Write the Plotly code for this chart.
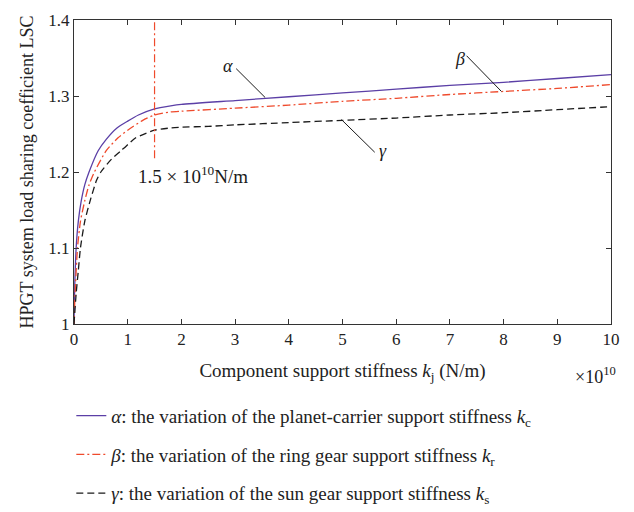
import plotly.graph_objects as go

# ---- data ----
alpha_x = [0, 0.01, 0.04, 0.08, 0.13, 0.2, 0.28, 0.45, 0.6, 0.8, 1.0, 1.2, 1.5, 1.8, 2.0, 3, 4, 5, 6, 7, 8, 9, 10]
alpha_y = [1.0, 1.04, 1.10, 1.135, 1.16, 1.183, 1.20, 1.228, 1.243, 1.258, 1.267, 1.275, 1.283, 1.287, 1.289,
           1.294, 1.299, 1.304, 1.309, 1.314, 1.318, 1.323, 1.328]

beta_x = [0, 0.02, 0.065, 0.12, 0.2, 0.28, 0.38, 0.6, 0.82, 1.0, 1.28, 1.5, 1.8, 2.0, 3, 4, 5, 6, 7, 8, 9, 10]
beta_y = [1.0, 1.04, 1.10, 1.135, 1.162, 1.183, 1.20, 1.228, 1.245, 1.255, 1.268, 1.275, 1.279, 1.280,
          1.284, 1.288, 1.293, 1.297, 1.302, 1.306, 1.310, 1.315]

gamma_x = [0, 0.04, 0.08, 0.12, 0.2, 0.3, 0.42, 0.5, 0.7, 0.86, 1.0, 1.15, 1.5, 1.8, 2.0, 2.5, 3, 4, 5, 6, 7, 8, 9, 10]
gamma_y = [1.0, 1.04, 1.07, 1.10, 1.135, 1.162, 1.189, 1.20, 1.217, 1.227, 1.236, 1.245, 1.255, 1.258, 1.259, 1.260,
           1.262, 1.265, 1.268, 1.271, 1.275, 1.278, 1.282, 1.286]

marker_x = [1.5, 1.5]
marker_y = [1.218, 1.4]

y_ticks = [1.0, 1.1, 1.2, 1.3, 1.4]
y_tick_labels = ["1", "1.1", "1.2", "1.3", "1.4"]
x_ticks = [0, 1, 2, 3, 4, 5, 6, 7, 8, 9, 10]
x_tick_labels = ["0", "1", "2", "3", "4", "5", "6", "7", "8", "9", "10"]

names = [
    "<i>α</i>: the variation of the planet-carrier support stiffness <i>k</i><sub>c</sub>",
    "<i>β</i>: the variation of the ring gear support stiffness <i>k</i><sub>r</sub>",
    "<i>γ</i>: the variation of the sun gear support stiffness <i>k</i><sub>s</sub>",
]

FONT = "Liberation Serif"
PURPLE = "#5b3fa6"
RED = "#ef4a2c"
BLACK = "#1a1a1a"
DASHDOT = "8px,3px,2px,3px"

fig = go.Figure()
fig.add_trace(go.Scatter(x=alpha_x, y=alpha_y, mode="lines", name=names[0], legendgroup="a",
                         line=dict(color=PURPLE, width=1.3, shape="spline", smoothing=0.6)))
fig.add_trace(go.Scatter(x=beta_x, y=beta_y, mode="lines", name=names[1], legendgroup="b",
                         line=dict(color=RED, width=1.3, dash=DASHDOT, shape="spline", smoothing=0.6)))
fig.add_trace(go.Scatter(x=gamma_x, y=gamma_y, mode="lines", name=names[2], legendgroup="c",
                         line=dict(color=BLACK, width=1.3, dash="7px,4px", shape="spline", smoothing=0.6)))
fig.add_trace(go.Scatter(x=marker_x, y=marker_y, mode="lines", showlegend=False,
                         line=dict(color=RED, width=1.2, dash=DASHDOT)))

# leader lines
leaders = [
    (3.02, 1.336, 3.56, 1.298),
    (7.31, 1.353, 7.96, 1.306),
    (4.98, 1.269, 5.60, 1.226),
]
for x0, y0, x1, y1 in leaders:
    fig.add_shape(type="line", x0=x0, y0=y0, x1=x1, y1=y1, xref="x", yref="y",
                  line=dict(color=BLACK, width=1))

anno_font = dict(family=FONT, size=18, color=BLACK)
fig.add_annotation(x=2.87, y=1.339, text="<i>α</i>", showarrow=False, font=anno_font)
fig.add_annotation(x=7.19, y=1.349, text="<i>β</i>", showarrow=False, font=anno_font)
fig.add_annotation(x=5.76, y=1.227, text="<i>γ</i>", showarrow=False, font=anno_font)
fig.add_annotation(x=1.15, y=1.196, xanchor="left", text="1.5 × 10<sup>10</sup>N/m", showarrow=False,
                   font=dict(family=FONT, size=19, color=BLACK))
fig.add_annotation(xref="paper", yref="paper", x=0.972, y=-0.17, xanchor="center", yanchor="middle",
                   text="×10<sup>10</sup>", showarrow=False,
                   font=dict(family=FONT, size=18, color=BLACK))

axis_common = dict(showline=True, linecolor="#333333", linewidth=1, mirror="ticks", ticks="inside",
                   ticklen=5, tickcolor="#333333", showgrid=False, zeroline=False,
                   tickfont=dict(family=FONT, size=17, color="#222222"))

fig.update_xaxes(range=[0, 10], tickvals=x_ticks, ticktext=x_tick_labels,
                 title=dict(text="Component support stiffness <i>k</i><sub>j</sub> (N/m)",
                            font=dict(family=FONT, size=19, color="#222222"), standoff=15),
                 **axis_common)
fig.update_yaxes(range=[1, 1.4], tickvals=y_ticks, ticktext=y_tick_labels,
                 title=dict(text="HPGT system load sharing coefficient LSC",
                            font=dict(family=FONT, size=18, color="#222222"), standoff=10),
                 **axis_common)

fig.update_layout(
    width=634, height=512,
    margin=dict(l=74, r=23, t=11, b=188),
    paper_bgcolor="white", plot_bgcolor="white",
    font=dict(family=FONT, size=17, color="#222222"),
    legend=dict(xref="paper", yref="container", x=-0.005, y=0.225, xanchor="left", yanchor="top",
                traceorder="grouped", tracegroupgap=11,
                font=dict(family=FONT, size=19, color="#222222"),
                bgcolor="rgba(0,0,0,0)"),
)

fig.write_html("out.html")
